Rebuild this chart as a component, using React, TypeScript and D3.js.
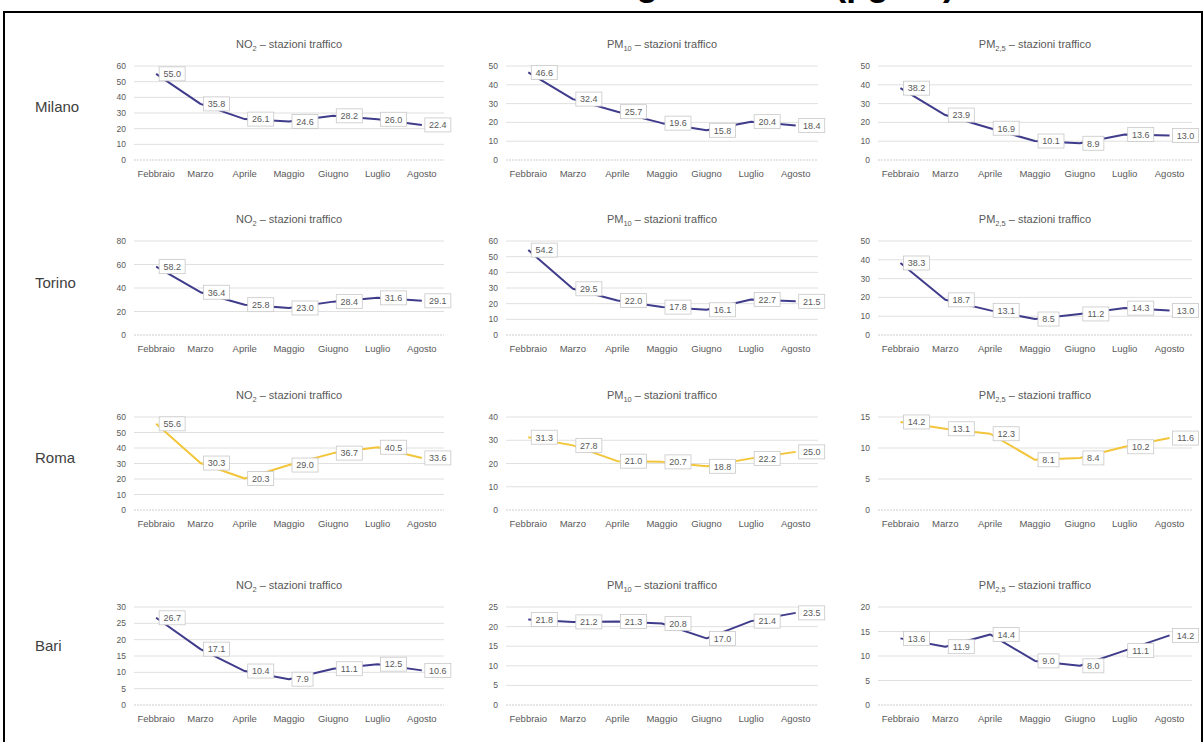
import React from "react";
import * as d3 from "d3";

const months = ["Febbraio", "Marzo", "Aprile", "Maggio", "Giugno", "Luglio", "Agosto"];
const cities = ["Milano", "Torino", "Roma", "Bari"];
const pollutantMain = ["NO", "PM", "PM"];
const pollutantSub = ["2", "10", "2,5"];

const milanoNO2 = [55.0, 35.8, 26.1, 24.6, 28.2, 26.0, 22.4];
const milanoPM10 = [46.6, 32.4, 25.7, 19.6, 15.8, 20.4, 18.4];
const milanoPM25 = [38.2, 23.9, 16.9, 10.1, 8.9, 13.6, 13.0];
const torinoNO2 = [58.2, 36.4, 25.8, 23.0, 28.4, 31.6, 29.1];
const torinoPM10 = [54.2, 29.5, 22.0, 17.8, 16.1, 22.7, 21.5];
const torinoPM25 = [38.3, 18.7, 13.1, 8.5, 11.2, 14.3, 13.0];
const romaNO2 = [55.6, 30.3, 20.3, 29.0, 36.7, 40.5, 33.6];
const romaPM10 = [31.3, 27.8, 21.0, 20.7, 18.8, 22.2, 25.0];
const romaPM25 = [14.2, 13.1, 12.3, 8.1, 8.4, 10.2, 11.6];
const bariNO2 = [26.7, 17.1, 10.4, 7.9, 11.1, 12.5, 10.6];
const bariPM10 = [21.8, 21.2, 21.3, 20.8, 17.0, 21.4, 23.5];
const bariPM25 = [13.6, 11.9, 14.4, 9.0, 8.0, 11.1, 14.2];

const milanoNO2Ticks = [0, 10, 20, 30, 40, 50, 60];
const milanoPM10Ticks = [0, 10, 20, 30, 40, 50];
const milanoPM25Ticks = [0, 10, 20, 30, 40, 50];
const torinoNO2Ticks = [0, 20, 40, 60, 80];
const torinoPM10Ticks = [0, 10, 20, 30, 40, 50, 60];
const torinoPM25Ticks = [0, 10, 20, 30, 40, 50];
const romaNO2Ticks = [0, 10, 20, 30, 40, 50, 60];
const romaPM10Ticks = [0, 10, 20, 30, 40];
const romaPM25Ticks = [0, 5, 10, 15];
const bariNO2Ticks = [0, 5, 10, 15, 20, 25, 30];
const bariPM10Ticks = [0, 5, 10, 15, 20, 25];
const bariPM25Ticks = [0, 5, 10, 15, 20];

const seriesGrid = [
  [milanoNO2, milanoPM10, milanoPM25],
  [torinoNO2, torinoPM10, torinoPM25],
  [romaNO2, romaPM10, romaPM25],
  [bariNO2, bariPM10, bariPM25],
];
const tickGrid = [
  [milanoNO2Ticks, milanoPM10Ticks, milanoPM25Ticks],
  [torinoNO2Ticks, torinoPM10Ticks, torinoPM25Ticks],
  [romaNO2Ticks, romaPM10Ticks, romaPM25Ticks],
  [bariNO2Ticks, bariPM10Ticks, bariPM25Ticks],
];
const cityColors = ["#403c8c", "#403c8c", "#f3c53a", "#403c8c"];

// layout
const colX = [
  [134, 444],
  [506, 818],
  [878, 1192],
];
const rowY = [
  [66, 160],
  [241, 335],
  [417, 510],
  [607, 705],
];
const rowLabelY = [107, 283, 458, 646];

const FONT = "'Liberation Sans', Arial, sans-serif";

function Panel({ values, ticks, color, x0, x1, y0, y1, pi }: any) {
  const x = d3.scaleBand<string>().domain(months).range([x0, x1]);
  const cx = (m: string) => (x(m) as number) + x.bandwidth() / 2;
  const y = d3.scaleLinear().domain([0, d3.max(ticks as number[]) as number]).range([y1, y0]);
  const line = d3
    .line<number>()
    .x((_, i) => cx(months[i]))
    .y((d) => y(d));
  const fmt = (v: number) => v.toFixed(1);
  const midX = (x0 + x1) / 2;
  return (
    <g>
      <text x={midX} y={y0 - 18} textAnchor="middle" fontSize={11} fill="#595959" fontFamily={FONT}>
        {pollutantMain[pi]}
        <tspan fontSize={7.5} dy={2.5}>{pollutantSub[pi]}</tspan>
        <tspan dy={-2.5}>{" – stazioni traffico"}</tspan>
      </text>
      {ticks.map((t: number) => (
        <g key={t}>
          <line
            x1={x0}
            x2={x1}
            y1={y(t)}
            y2={y(t)}
            stroke={t === 0 ? "#cfcfcf" : "#e0e0e0"}
            strokeWidth={1}
            strokeDasharray={t === 0 ? "2,1" : undefined}
          />
          <text x={x0 - 8} y={y(t) + 3} textAnchor="end" fontSize={8.5} fill="#595959" fontFamily={FONT}>
            {t}
          </text>
        </g>
      ))}
      {months.map((m) => (
        <text key={m} x={cx(m)} y={y1 + 17} textAnchor="middle" fontSize={9.5} fill="#595959" fontFamily={FONT}>
          {m}
        </text>
      ))}
      <path d={line(values) as string} fill="none" stroke={color} strokeWidth={2} strokeLinejoin="round" />
      {values.map((v: number, i: number) => {
        const px = cx(months[i]);
        const py = y(v);
        const w = fmt(v).length * 5 + 6;
        return (
          <g key={i}>
            <rect x={px + 3} y={py - 7} width={w} height={14} fill="#ffffff" stroke="#c8c8c8" strokeWidth={0.8} />
            <text x={px + 3 + w / 2} y={py + 3.3} textAnchor="middle" fontSize={9} fill="#595959" fontFamily={FONT}>
              {fmt(v)}
            </text>
          </g>
        );
      })}
    </g>
  );
}

export default function App() {
  return (
    <svg
      width={1204}
      height={742}
      style={{ position: "absolute", left: 0, top: 0, background: "#ffffff" }}
    >
      <rect x={0} y={0} width={1204} height={742} fill="#ffffff" />
      <text x={955} y={-5} textAnchor="end" fontSize={36} fontWeight="bold" fill="#000" fontFamily={FONT}>
        Concentrazioni medie mensili febbraio – agosto 2020 (µg/m³)
      </text>
      <rect x={4} y={12} width={1198} height={740} fill="none" stroke="#000" strokeWidth={2} />
      {cities.map((c, ri) => (
        <text key={c} x={35} y={rowLabelY[ri] + 5} fontSize={15} fill="#404040" fontFamily={FONT}>
          {c}
        </text>
      ))}
      {seriesGrid.map((row, ri) =>
        row.map((vals, ci) => (
          <Panel
            key={ri + "-" + ci}
            values={vals}
            ticks={tickGrid[ri][ci]}
            color={cityColors[ri]}
            x0={colX[ci][0]}
            x1={colX[ci][1]}
            y0={rowY[ri][0]}
            y1={rowY[ri][1]}
            pi={ci}
          />
        ))
      )}
    </svg>
  );
}
